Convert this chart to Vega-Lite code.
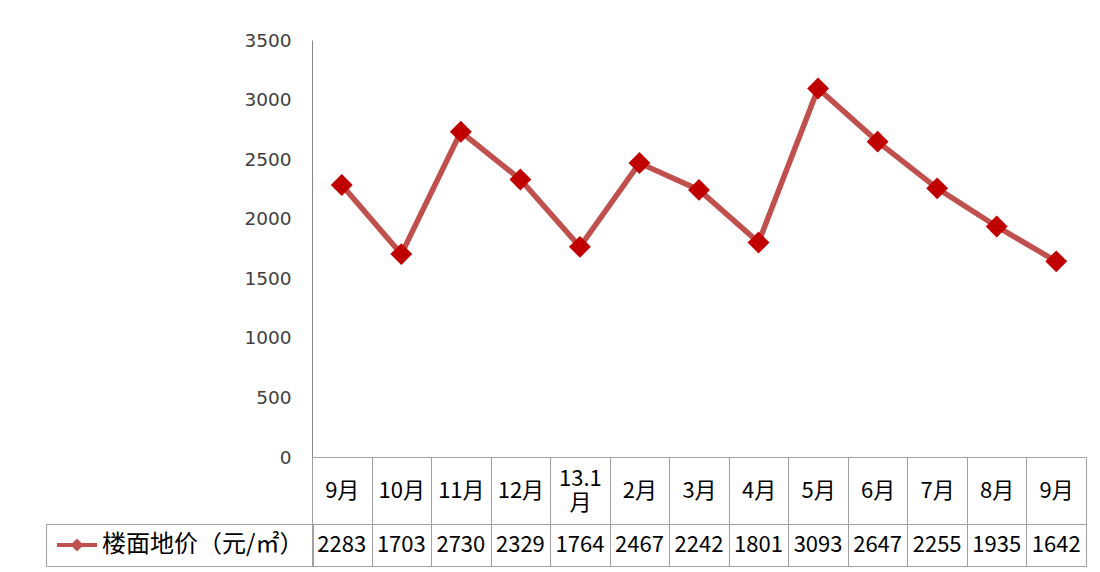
{
  "$schema": "https://vega.github.io/schema/vega-lite/v6.json",
  "autosize": {"type": "pad"},
  "padding": {"left": 45, "top": 31, "right": 10, "bottom": 4},
  "background": "white",
  "data": {"values": [
    {"p": "12.9", "v": 2283},
    {"p": "12.10", "v": 1703},
    {"p": "12.11", "v": 2730},
    {"p": "12.12", "v": 2329},
    {"p": "13.1", "v": 1764},
    {"p": "13.2", "v": 2467},
    {"p": "13.3", "v": 2242},
    {"p": "13.4", "v": 1801},
    {"p": "13.5", "v": 3093},
    {"p": "13.6", "v": 2647},
    {"p": "13.7", "v": 2255},
    {"p": "13.8", "v": 1935},
    {"p": "13.9", "v": 1642}
  ]},
  "spacing": 67,
  "bounds": "flush",
  "vconcat": [
    {
      "width": 774,
      "height": 417,
      "view": {"stroke": null},
      "encoding": {
        "x": {
          "field": "p", "type": "nominal", "sort": null,
          "scale": {"type": "band", "paddingInner": 0, "paddingOuter": 0},
          "axis": {
            "title": null, "labelAngle": 0,
            "labelExpr": "indexof('' + datum.value, '.') < 0 ? '' : (datum.value == '13.1' ? ['13.1', '月'] : split(datum.value, '.')[1] + '月')",
            "domainColor": "#a0a0a0", "tickColor": "#a0a0a0",
            "tickSize": 109, "tickBand": "extent",
            "labelPadding": {"condition": {"test": "datum.value == '13.1'", "value": -88}, "value": -76},
            "labelBaseline": "middle", "labelLineHeight": 24,
            "labelFont": "Noto Sans CJK SC", "labelFontSize": 22, "labelColor": "#000000",
            "labelOverlap": false
          }
        },
        "y": {
          "field": "v", "type": "quantitative",
          "scale": {"domain": [0, 3500], "nice": false},
          "axis": {
            "values": [0, 500, 1000, 1500, 2000, 2500, 3000, 3500],
            "title": null, "grid": false, "ticks": false, "format": "d",
            "domainColor": "#868686",
            "labelFont": "DejaVu Sans", "labelFontSize": 18.5, "labelColor": "#404040",
            "labelPadding": 21
          }
        }
      },
      "layer": [
        {
          "mark": {"type": "line", "strokeWidth": 5.5},
          "encoding": {
            "color": {
              "datum": "楼面地价（元/㎡）",
              "scale": {"range": ["#c0504d"]},
              "legend": {
                "orient": "none", "legendX": -266, "legendY": 484,
                "title": null, "padding": 9, "clipHeight": 24,
                "symbolType": "M-1,0H1M0,-0.18L0.18,0L0,0.18L-0.18,0Z",
                "symbolSize": 1600, "symbolStrokeWidth": 4,
                "symbolFillColor": "#c00000", "symbolStrokeColor": "#c0504d",
                "symbolOffset": 0,
                "labelFont": "Noto Sans CJK SC", "labelFontSize": 24, "labelColor": "#000000",
                "labelLimit": 400, "labelOffset": 3,
                "strokeColor": "#a0a0a0",
                "encode": {"symbols": {"update": {
                  "fill": {"value": "#c00000"},
                  "stroke": {"value": "#c0504d"},
                  "strokeWidth": {"value": 4},
                  "opacity": {"value": 1}
                }}}
              }
            }
          }
        },
        {
          "mark": {"type": "point", "shape": "diamond", "filled": true, "size": 480, "color": "#c00000", "opacity": 1}
        }
      ]
    },
    {
      "width": 774,
      "height": 42,
      "view": {"stroke": "#a0a0a0"},
      "mark": {"type": "text", "font": "Noto Sans CJK SC", "fontSize": 22, "color": "#000000"},
      "encoding": {
        "x": {"field": "p", "type": "nominal", "sort": null, "axis": null},
        "text": {"field": "v", "type": "quantitative", "format": "d"}
      }
    }
  ]
}
